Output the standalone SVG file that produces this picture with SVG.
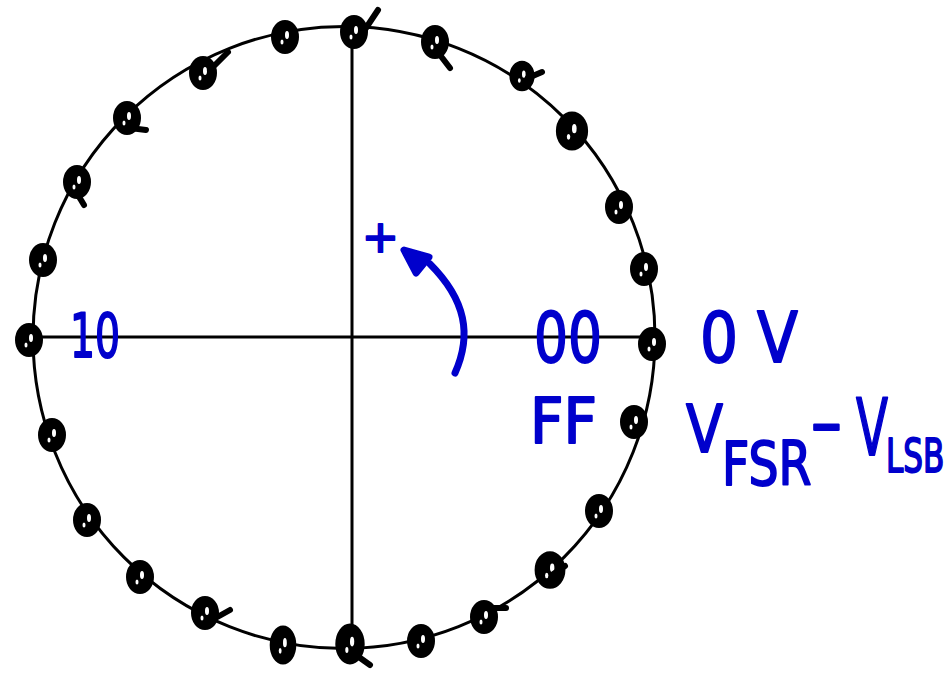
<svg xmlns="http://www.w3.org/2000/svg" xmlns:xlink="http://www.w3.org/1999/xlink" width="952" height="674" viewBox="0 0 952 674">
<style>
.ink{fill:none;stroke:#000;stroke-width:3;stroke-linecap:round}
.tail{fill:none;stroke:#000;stroke-width:6;stroke-linecap:round}
.blue{fill:#0000cc;stroke:#0000cc;stroke-width:2;stroke-linejoin:round;font-family:"DejaVu Sans","Liberation Sans",sans-serif}
.bstroke{fill:none;stroke:#0000cc;stroke-width:7;stroke-linecap:round;stroke-linejoin:round}
</style>
<defs>
<g id="d">
<ellipse cx="0" cy="0" rx="13" ry="16" fill="#000" stroke="#000" stroke-width="2"/>
<ellipse cx="2" cy="-2" rx="2" ry="4" fill="#fff"/>
<ellipse cx="-3" cy="5" rx="1.5" ry="2.5" fill="#fff"/>
</g>
</defs>
<rect width="952" height="674" fill="#fff"/>
<g id="axes">
<circle class="ink" cx="344" cy="337.5" r="311"/>
<line class="ink" x1="24" y1="337" x2="652" y2="337"/>
<line class="ink" x1="352" y1="30" x2="352" y2="640"/>
</g>
<g id="dots">
<use xlink:href="#d" transform="translate(354,32)"/>
<path class="tail" d="M362,34 L378,10"/>
<use xlink:href="#d" transform="translate(435,42)"/>
<path class="tail" d="M440,55 L450,68"/>
<use xlink:href="#d" transform="translate(522,76) scale(0.9)"/>
<path class="tail" d="M528,78 L542,72"/>
<use xlink:href="#d" transform="translate(572,131) scale(1.15)"/>
<use xlink:href="#d" transform="translate(619,207)"/>
<use xlink:href="#d" transform="translate(644,269)"/>
<use xlink:href="#d" transform="translate(652,344)"/>
<use xlink:href="#d" transform="translate(634,422)"/>
<use xlink:href="#d" transform="translate(599,511)"/>
<use xlink:href="#d" transform="translate(550,570) scale(1.1)"/>
<path class="tail" d="M552,575 L565,566"/>
<use xlink:href="#d" transform="translate(484,617)"/>
<path class="tail" d="M490,608 L506,608"/>
<use xlink:href="#d" transform="translate(421,641)"/>
<use xlink:href="#d" transform="translate(350,644) scale(1.05,1.2)"/>
<path class="tail" d="M356,655 L370,665"/>
<use xlink:href="#d" transform="translate(283,645) scale(0.95,1.15)"/>
<use xlink:href="#d" transform="translate(205,613)"/>
<path class="tail" d="M212,620 L230,610"/>
<use xlink:href="#d" transform="translate(140,577)"/>
<use xlink:href="#d" transform="translate(87,520)"/>
<use xlink:href="#d" transform="translate(52,435)"/>
<use xlink:href="#d" transform="translate(29,340)"/>
<use xlink:href="#d" transform="translate(43,260)"/>
<use xlink:href="#d" transform="translate(77,182)"/>
<path class="tail" d="M78,195 L84,205"/>
<use xlink:href="#d" transform="translate(127,118)"/>
<path class="tail" d="M130,128 L146,130"/>
<use xlink:href="#d" transform="translate(203,73)"/>
<path class="tail" d="M210,70 L228,52"/>
<use xlink:href="#d" transform="translate(285,37)"/>
</g>
<g id="arrow">
<path class="bstroke" d="M455,373 C472,335 466,300 430,264"/>
<path d="M404,250 L429,257 L416,273 Z" fill="#0000cc" stroke="#0000cc" stroke-width="7" stroke-linejoin="round"/>
</g>
<g id="labels">
<text class="blue" x="70" y="357" font-size="60" textLength="50" lengthAdjust="spacingAndGlyphs">10</text>
<text class="blue" x="534" y="362" font-size="70" textLength="68" lengthAdjust="spacingAndGlyphs">00</text>
<text class="blue" x="700" y="362" font-size="70" textLength="98" lengthAdjust="spacingAndGlyphs">0 V</text>
<text class="blue" x="530" y="443" font-size="62" textLength="67" lengthAdjust="spacingAndGlyphs">FF</text>
<text class="blue" x="362" y="252" font-size="44">+</text>
<g id="vfsr-vlsb">
<text class="blue" transform="translate(686,452) scale(0.82,1)" font-size="66">V</text>
<text class="blue" transform="translate(722,485) scale(0.79,1)" font-size="60">FSR</text>
<text class="blue" transform="translate(810,446) scale(1.3,1)" font-size="70">-</text>
<text class="blue" transform="translate(856,455) scale(0.6,1)" font-size="78">V</text>
<text class="blue" transform="translate(886,472) scale(0.66,1)" font-size="47">LSB</text>
</g>
</g>
</svg>
